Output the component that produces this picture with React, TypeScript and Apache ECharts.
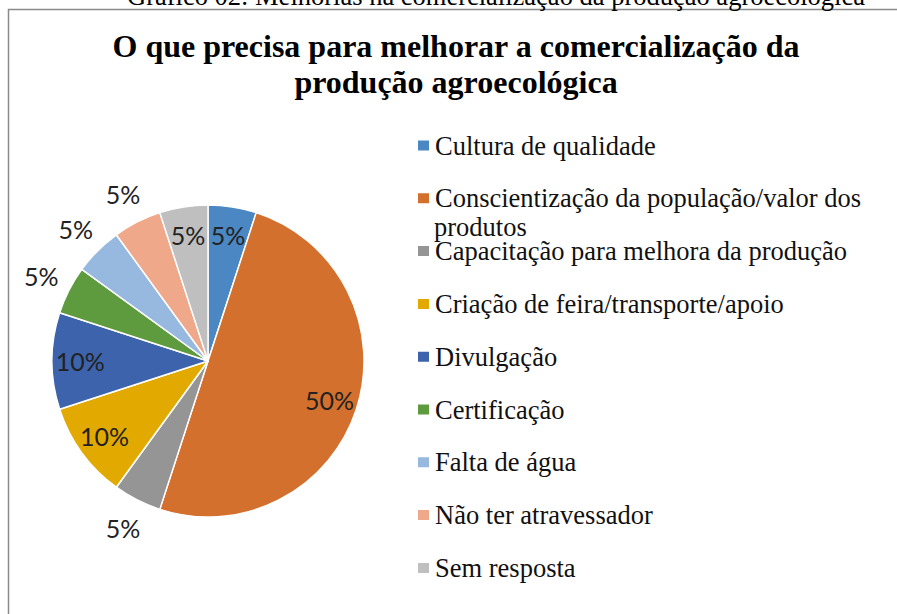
import React, { useEffect, useRef } from "react";
import * as echarts from "echarts";

const caption = "Gráfico 02: Melhorias na comercialização da produção agroecológica";
const titleText = "O que precisa para melhorar a comercialização da\nprodução agroecológica";
const categories = [
  "Cultura de qualidade",
  "Conscientização da população/valor dos produtos",
  "Capacitação para melhora da produção",
  "Criação de feira/transporte/apoio",
  "Divulgação",
  "Certificação",
  "Falta de água",
  "Não ter atravessador",
  "Sem resposta",
];
const values = [5, 50, 5, 10, 10, 5, 5, 5, 5];
const colors = ["#4A87C3", "#D4702D", "#959595", "#E2AA00", "#3C63AC", "#5E9A3E", "#97B9E0", "#F0A88A", "#BFBFBF"];
const outsideLabel = [false, false, true, false, false, true, true, true, false];

export default function App() {
  const ref = useRef<HTMLDivElement>(null);
  useEffect(() => {
    const chart = echarts.init(ref.current!, null, { renderer: "svg" });
    const R = 156;
    const center = [208, 361];
    const labelFont = { fontFamily: "Lato", fontSize: 25, color: "#222" };
    const pct = (p: any) => Math.round(p.percent) + "%";
    const labelPie = (factor: number, showOutside: boolean) => ({
      type: "pie",
      silent: true,
      center,
      radius: [0, R * factor * 2],
      startAngle: 90,
      clockwise: true,
      z: 5,
      emphasis: { disabled: true },
      itemStyle: { color: "rgba(0,0,0,0)", borderWidth: 0 },
      labelLine: { show: false },
      data: categories.map((n, i) => ({
        name: n,
        value: values[i],
        label: {
          show: outsideLabel[i] === showOutside,
          position: "inside",
          formatter: pct,
          ...labelFont,
        },
      })),
    });
    const splitName = (n: string) =>
      n === categories[1] ? "Conscientização da população/valor dos" : n;
    chart.setOption({
      animation: false,
      backgroundColor: "#fff",
      color: colors,
      title: {
        text: titleText,
        left: 451,
        top: 23,
        textAlign: "center",
        textStyle: {
          fontFamily: "Liberation Serif",
          fontWeight: "bold",
          fontSize: 32,
          lineHeight: 36,
          color: "#000",
        },
      },
      legend: {
        type: "plain",
        orient: "vertical",
        left: 411,
        top: 127,
        height: 470,
        itemWidth: 13,
        itemHeight: 12,
        itemGap: 25.8,
        icon: "rect",
        selectedMode: false,
        data: categories,
        formatter: splitName,
        textStyle: {
          fontFamily: "Liberation Serif",
          fontSize: 26.5,
          lineHeight: 22,
          color: "#111",
        },
      },
      graphic: [
        {
          type: "rect",
          shape: { x: 8.5, y: 9.5, width: 900, height: 620 },
          style: { fill: "none", stroke: "#8a8a8a", lineWidth: 1.5 },
          silent: true,
        },
        {
          type: "text",
          x: 496,
          y: 9,
          style: {
            text: caption,
            font: "26.5px 'Liberation Serif'",
            fill: "#000",
            align: "center",
            verticalAlign: "bottom",
          },
          silent: true,
        },
        {
          type: "text",
          x: 434,
          y: 227,
          style: {
            text: "produtos",
            font: "26.5px 'Liberation Serif'",
            fill: "#111",
            align: "left",
            verticalAlign: "middle",
          },
          silent: true,
        },
      ],
      series: [
        {
          type: "pie",
          center,
          radius: [0, R],
          startAngle: 90,
          clockwise: true,
          silent: true,
          emphasis: { disabled: true },
          label: { show: false },
          labelLine: { show: false },
          itemStyle: { borderColor: "#fff", borderWidth: 1.5 },
          data: categories.map((n, i) => ({ name: n, value: values[i] })),
        },
        labelPie(0.8, false),
        labelPie(1.18, true),
      ],
    });
    return () => chart.dispose();
  }, []);
  return (
    <div
      ref={ref}
      style={{ position: "absolute", left: 0, top: 0, width: 897, height: 614 }}
    />
  );
}
